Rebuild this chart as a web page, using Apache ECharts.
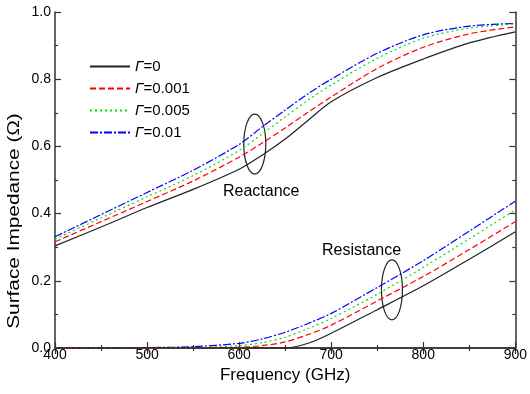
<!DOCTYPE html>
<html>
<head>
<meta charset="utf-8">
<script src="https://cdn.jsdelivr.net/npm/echarts@6/dist/echarts.min.js"></script>
<style>
  html, body { margin: 0; padding: 0; background: #fff; }
  #chart { width: 530px; height: 394px; }
</style>
</head>
<body>
<div id="chart"></div>
<script type="text/javascript">
    // frequency points (GHz)
    var freq = [400, 450, 500, 550, 600, 625, 650, 675, 700, 750, 800, 850, 900];

    // legend names
    var gammaNames = ['0', '0.001', '0.005', '0.01'];

    // reactance curves
    var reactG0    = [0.304, 0.360, 0.418, 0.472, 0.532, 0.574, 0.622, 0.678, 0.733, 0.805, 0.860, 0.908, 0.941];
    var reactG001  = [0.316, 0.376, 0.436, 0.497, 0.568, 0.610, 0.655, 0.702, 0.747, 0.832, 0.895, 0.935, 0.956];
    var reactG005  = [0.324, 0.387, 0.450, 0.513, 0.588, 0.637, 0.688, 0.738, 0.783, 0.862, 0.922, 0.952, 0.964];
    var reactG01   = [0.331, 0.397, 0.463, 0.529, 0.606, 0.658, 0.708, 0.757, 0.800, 0.877, 0.932, 0.958, 0.966];

    // resistance curves
    var resistG0   = [0, 0, 0, 0, 0, 0, 0, 0.014, 0.044, 0.114, 0.185, 0.264, 0.346];
    var resistG001 = [0, 0, 0, 0, 0.002, 0.007, 0.018, 0.040, 0.068, 0.140, 0.213, 0.293, 0.376];
    var resistG005 = [0, 0, 0, 0.001, 0.007, 0.016, 0.032, 0.058, 0.088, 0.160, 0.240, 0.325, 0.411];
    var resistG01  = [0, 0, 0.001, 0.004, 0.014, 0.027, 0.047, 0.073, 0.103, 0.180, 0.260, 0.348, 0.437];

    var FONT = 'Liberation Sans, Arial, sans-serif';

    var styles = [
        { color: '#222222', type: 'solid' },
        { color: '#ff0000', type: [6, 3] },
        { color: '#00e000', type: [2, 3] },
        { color: '#0000ff', type: [8, 2, 2, 2] }
    ];

    function pairs(ys) {
        return freq.map(function (f, i) { return [f, ys[i]]; });
    }

    var reactAll = [reactG0, reactG001, reactG005, reactG01];
    var resistAll = [resistG0, resistG001, resistG005, resistG01];

    var series = [];
    [reactAll, resistAll].forEach(function (group) {
        group.forEach(function (ys, k) {
            series.push({
                name: gammaNames[k],
                type: 'line',
                xAxisIndex: 0,
                yAxisIndex: 0,
                data: pairs(ys),
                symbol: 'none',
                smooth: 0.3,
                color: styles[k].color,
                lineStyle: { color: styles[k].color, width: 1.2, type: styles[k].type },
                z: 10 - k
            });
        });
    });

    var chart = echarts.init(document.getElementById('chart'), null, { renderer: 'canvas' });

    var axisCommon = {
        type: 'value',
        axisLine: { show: true, lineStyle: { color: '#333', width: 1.5 } },
        axisTick: { show: true, inside: true, length: 6, lineStyle: { color: '#333', width: 1.2 } },
        minorTick: { show: true, splitNumber: 2, length: 3, lineStyle: { color: '#333', width: 1.2 } },
        splitLine: { show: false }
    };

    var option = {
        animation: false,
        backgroundColor: '#fff',
        grid: { left: 55, right: 9, top: 12, bottom: 46 },
        legend: {
            data: gammaNames,
            orient: 'vertical',
            left: 84,
            top: 54,
            itemWidth: 40,
            itemHeight: 14,
            itemGap: 7,
            itemStyle: { opacity: 0 },
            formatter: function (n) { return '{i|Γ}=' + n; },
            textStyle: {
                fontFamily: FONT, fontSize: 15, color: '#000',
                rich: { i: { fontFamily: FONT, fontSize: 15, fontStyle: 'italic', color: '#000' } }
            }
        },
        xAxis: [
            Object.assign({}, axisCommon, {
                min: 400, max: 900, interval: 100,
                name: 'Frequency (GHz)',
                nameLocation: 'middle',
                nameGap: 19,
                nameTextStyle: { fontFamily: FONT, fontSize: 17, color: '#000' },
                axisLabel: { fontFamily: FONT, fontSize: 14, color: '#000', margin: 0 }
            }),
            Object.assign({}, axisCommon, {
                position: 'top', min: 400, max: 900, interval: 100,
                axisLabel: { show: false }
            })
        ],
        yAxis: [
            Object.assign({}, axisCommon, {
                min: 0, max: 1, interval: 0.2,
                axisLabel: {
                    fontFamily: FONT, fontSize: 14, color: '#000', margin: 4,
                    formatter: function (v) { return v.toFixed(1); }
                }
            }),
            Object.assign({}, axisCommon, {
                position: 'right', min: 0, max: 1, interval: 0.2,
                axisLabel: { show: false }
            })
        ],
        series: series
    };

    chart.setOption(option);

    // annotations placed from data coordinates
    function px(f, v) { return chart.convertToPixel({ xAxisIndex: 0, yAxisIndex: 0 }, [f, v]); }
    var e1 = px(617, 0.607);
    var e2 = px(766, 0.173);
    var t1 = px(624, 0.465);
    var t2 = px(733, 0.290);

    chart.setOption({
        graphic: [
            {
                type: 'ellipse',
                shape: { cx: e1[0], cy: e1[1], rx: 11, ry: 30 },
                style: { fill: 'none', stroke: '#222', lineWidth: 1.2 }
            },
            {
                type: 'ellipse',
                shape: { cx: e2[0], cy: e2[1], rx: 10.5, ry: 30 },
                style: { fill: 'none', stroke: '#222', lineWidth: 1.2 }
            },
            {
                type: 'text', x: t1[0], y: t1[1],
                style: { text: 'Reactance', fontFamily: FONT, fontSize: 16, fill: '#000', align: 'center', verticalAlign: 'middle' }
            },
            {
                type: 'text', x: t2[0], y: t2[1],
                style: { text: 'Resistance', fontFamily: FONT, fontSize: 16, fill: '#000', align: 'center', verticalAlign: 'middle' }
            },
            {
                // y axis title, stretched along its length as in the reference
                type: 'text', x: 15, y: 221,
                rotation: Math.PI / 2,
                scaleX: 1.3,
                style: { text: 'Surface Impedance (Ω)', fontFamily: FONT, fontSize: 16, fill: '#000', align: 'center', verticalAlign: 'middle' }
            }
        ]
    });
</script>
</body>
</html>
